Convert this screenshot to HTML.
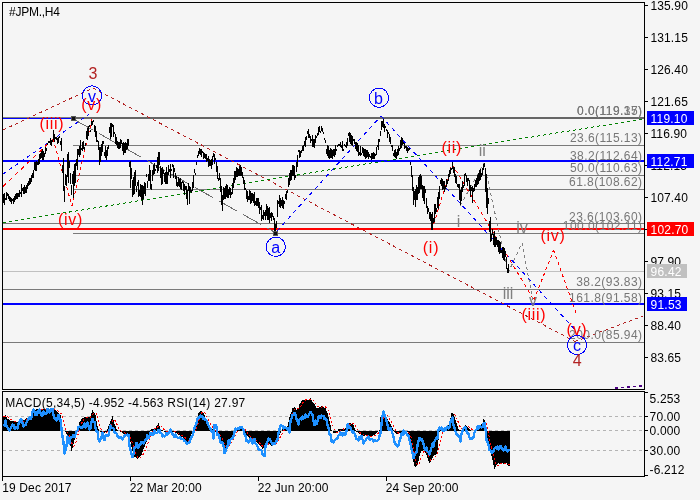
<!DOCTYPE html>
<html><head><meta charset="utf-8"><style>
html,body{margin:0;padding:0;background:#f5f5f5;}
svg{display:block;}
text{white-space:pre;}
</style></head><body>
<svg width="700" height="500" viewBox="0 0 700 500" shape-rendering="crispEdges" font-family='"Liberation Sans", Arial, sans-serif'><rect width="700" height="500" fill="#f5f5f5"/><rect x="73" y="145" width="571" height="1" fill="#7a7a7a"/><rect x="73" y="175" width="571" height="1" fill="#7a7a7a"/><rect x="73" y="189" width="571" height="1" fill="#7a7a7a"/><rect x="73" y="233" width="571" height="1" fill="#7a7a7a"/><rect x="3" y="223" width="641" height="1" fill="#7a7a7a"/><rect x="3" y="289" width="641" height="1" fill="#7a7a7a"/><rect x="3" y="342" width="641" height="1" fill="#7a7a7a"/><rect x="3" y="271" width="641" height="1" fill="#c0c0c0"/><rect x="3" y="117" width="641" height="2" fill="#0000ff"/><rect x="3" y="160" width="641" height="2" fill="#0000ff"/><rect x="3" y="228" width="641" height="2" fill="#ff0000"/><rect x="3" y="303" width="641" height="2" fill="#0000ff"/><rect x="3" y="117" width="70" height="1" fill="#808080"/><rect x="73" y="117" width="571" height="2" fill="#666666"/><line x1="3" y1="130" x2="93" y2="88" stroke="#b22222" stroke-width="1" stroke-dasharray="3.31,3.31"/><line x1="93" y1="88" x2="575" y2="341.5" stroke="#b22222" stroke-width="1" stroke-dasharray="3.39,3.39"/><line x1="575" y1="341.5" x2="643" y2="316" stroke="#b22222" stroke-width="1" stroke-dasharray="3.20,3.20"/><line x1="3" y1="222.8" x2="642.6" y2="119" stroke="#008000" stroke-width="1" stroke-dasharray="3.04,3.04"/><line x1="3" y1="174" x2="89" y2="114.4" stroke="#0000ff" stroke-width="1" stroke-dasharray="3.65,3.65"/><line x1="277" y1="231" x2="381" y2="116" stroke="#0000ff" stroke-width="1" stroke-dasharray="4.04,4.04"/><line x1="381" y1="116" x2="577" y2="332" stroke="#0000ff" stroke-width="1" stroke-dasharray="4.05,4.05"/><line x1="75" y1="120" x2="276" y2="233" stroke="#6e6e6e" stroke-width="1" stroke-dasharray="20.65,6.88"/><line x1="3" y1="186.5" x2="53" y2="139" stroke="#ff0000" stroke-width="1" stroke-dasharray="4.14,4.14"/><line x1="53" y1="139" x2="72" y2="206" stroke="#ff0000" stroke-width="1" stroke-dasharray="3.12,3.12"/><line x1="72" y1="206" x2="92" y2="119" stroke="#ff0000" stroke-width="1" stroke-dasharray="3.08,3.08"/><line x1="432" y1="230" x2="452" y2="164" stroke="#ff0000" stroke-width="1" stroke-dasharray="3.13,3.13"/><line x1="452" y1="164" x2="534" y2="300" stroke="#ff0000" stroke-width="1" stroke-dasharray="3.50,3.50"/><line x1="534" y1="300" x2="553.6" y2="250" stroke="#ff0000" stroke-width="1" stroke-dasharray="3.22,3.22"/><line x1="553.6" y1="250" x2="576" y2="313" stroke="#ff0000" stroke-width="1" stroke-dasharray="3.18,3.18"/><line x1="460" y1="206" x2="484" y2="163" stroke="#808080" stroke-width="1" stroke-dasharray="3.44,3.44"/><line x1="484" y1="163" x2="508" y2="273" stroke="#808080" stroke-width="1" stroke-dasharray="3.07,3.07"/><line x1="508" y1="273" x2="522" y2="243" stroke="#808080" stroke-width="1" stroke-dasharray="3.31,3.31"/><line x1="522" y1="243" x2="533" y2="301" stroke="#808080" stroke-width="1" stroke-dasharray="3.05,3.05"/><line x1="615" y1="388" x2="643" y2="386" stroke="#4b0082" stroke-width="1.5" stroke-dasharray="3.01,3.01"/><path d="M3.5 193.9V203.3M4.5 192.9V205.2M5.5 197.8V200.2M6.5 192.1V199.9M7.5 193.2V195.8M8.5 194.1V199.3M9.5 196.0V201.4M10.5 196.8V202.3M11.5 198.0V203.5M12.5 198.8V200.8M13.5 198.1V203.5M14.5 195.6V202.2M15.5 194.4V199.6M16.5 192.6V199.3M17.5 192.8V199.1M18.5 193.0V197.0M19.5 190.4V196.7M20.5 192.1V194.3M21.5 184.4V196.6M22.5 188.3V191.2M23.5 186.5V194.0M24.5 184.6V194.4M25.5 187.1V193.1M26.5 185.1V193.3M27.5 183.2V189.2M28.5 181.3V186.0M29.5 178.3V185.3M30.5 177.5V183.5M31.5 174.9V182.1M32.5 172.7V177.9M33.5 170.4V178.2M34.5 162.3V170.4M35.5 162.2V171.2M36.5 161.2V171.3M37.5 162.3V165.1M38.5 158.9V165.4M39.5 154.1V163.9M40.5 152.5V159.0M41.5 151.3V158.2M42.5 149.4V159.6M43.5 150.5V159.9M44.5 153.0V156.6M45.5 146.8V153.6M46.5 147.8V150.6M47.5 142.5V144.5M48.5 141.4V143.4M49.5 140.6V142.6M50.5 138.1V144.6M51.5 140.3V145.9M52.5 140.0V142.0M53.5 130.3V139.9M54.5 133.5V141.9M55.5 136.6V138.6M56.5 137.4V139.7M57.5 138.4V144.1M58.5 136.5V142.8M59.5 136.1V138.1M60.5 140.6V144.6M61.5 137.5V150.6M62.5 164.5V172.8M63.5 158.4V190.9M64.5 185.9V201.6M65.5 173.5V184.9M66.5 174.5V185.7M67.5 154.3V176.5M68.5 152.1V183.3M69.5 161.0V167.9M70.5 172.5V183.7M71.5 184.8V194.8M72.5 174.4V184.2M73.5 171.3V198.4M74.5 163.6V185.5M75.5 163.3V182.8M76.5 159.3V165.9M77.5 149.2V170.2M78.5 149.1V154.6M79.5 146.4V156.6M80.5 140.2V154.5M81.5 147.9V150.0M82.5 142.4V150.6M83.5 141.1V149.2M84.5 147.3V149.7M85.5 143.2V146.0M86.5 130.7V139.4M87.5 128.0V139.8M88.5 126.2V135.9M89.5 125.1V127.1M90.5 129.8V131.8M91.5 120.7V125.7M92.5 120.9V125.2M93.5 119.7V122.4M94.5 124.5V131.7M95.5 126.3V136.5M96.5 130.8V141.9M97.5 139.6V142.1M98.5 140.6V150.0M99.5 147.4V165.0M100.5 147.2V162.3M101.5 144.0V155.6M102.5 140.6V152.3M103.5 140.8V144.4M104.5 152.4V155.5M105.5 145.9V157.6M106.5 150.0V159.5M107.5 146.6V155.9M108.5 144.6V148.9M109.5 127.1V133.1M110.5 123.3V139.1M111.5 123.4V137.1M112.5 124.0V126.9M113.5 125.3V136.9M114.5 132.0V134.3M115.5 134.3V143.6M116.5 137.3V145.2M117.5 140.8V148.4M118.5 141.8V148.9M119.5 142.2V148.8M120.5 139.3V147.5M121.5 140.3V144.3M122.5 142.7V151.2M123.5 141.8V154.5M124.5 143.1V152.9M125.5 142.0V152.7M126.5 143.1V149.5M127.5 138.6V149.0M128.5 138.5V146.4M129.5 161.5V167.1M130.5 161.3V188.3M131.5 168.0V179.0M132.5 180.0V196.7M133.5 176.5V195.4M134.5 171.9V194.3M135.5 170.3V186.1M136.5 185.7V191.9M137.5 182.2V186.4M138.5 180.1V197.4M139.5 189.5V195.6M140.5 184.3V196.8M141.5 185.3V200.1M142.5 184.8V205.3M143.5 186.2V198.8M144.5 181.7V193.6M145.5 182.5V195.6M146.5 173.8V177.4M147.5 180.9V187.7M148.5 173.5V180.8M149.5 165.1V181.4M150.5 170.1V189.2M151.5 184.3V190.2M152.5 169.5V180.7M153.5 164.8V175.1M154.5 163.3V173.6M155.5 168.5V171.3M156.5 164.8V167.8M157.5 156.6V173.0M158.5 152.2V171.1M159.5 151.7V164.9M160.5 166.4V178.3M161.5 168.4V185.1M162.5 167.0V184.2M163.5 170.3V174.0M164.5 173.0V182.1M165.5 171.6V184.3M166.5 167.0V184.4M167.5 172.0V183.8M168.5 164.9V174.6M169.5 168.5V171.7M170.5 163.5V177.9M171.5 168.5V170.8M172.5 163.8V167.2M173.5 164.7V177.9M174.5 168.1V171.6M175.5 173.3V179.3M176.5 175.5V186.2M177.5 181.7V186.5M178.5 176.9V186.4M179.5 178.8V186.8M180.5 177.8V189.0M181.5 181.9V189.6M182.5 180.7V182.7M183.5 181.6V191.0M184.5 184.1V194.5M185.5 185.8V189.5M186.5 186.2V199.2M187.5 190.2V204.9M188.5 183.2V191.4M189.5 186.2V204.1M190.5 187.2V191.5M191.5 189.8V192.5M192.5 182.1V190.8M193.5 174.5V188.0M194.5 168.9V172.7M195.5 172.7V175.4M196.5 162.0V165.1M197.5 155.3V157.7M198.5 150.8V155.9M199.5 148.1V153.7M200.5 148.5V154.7M201.5 148.9V157.1M202.5 150.9V153.2M203.5 152.2V159.0M204.5 153.1V157.8M205.5 153.9V159.0M206.5 154.3V161.7M207.5 157.8V160.5M208.5 156.1V166.7M209.5 159.2V166.4M210.5 160.1V166.2M211.5 159.3V169.3M212.5 155.6V165.3M213.5 153.1V156.8M214.5 154.0V163.5M215.5 157.5V160.4M216.5 162.2V171.6M217.5 165.9V179.2M218.5 178.2V180.8M219.5 172.7V180.0M220.5 177.6V191.8M221.5 186.4V205.0M222.5 194.9V211.3M223.5 187.4V199.7M224.5 188.3V198.9M225.5 186.4V198.6M226.5 184.4V197.2M227.5 185.3V198.2M228.5 189.3V198.1M229.5 187.3V195.4M230.5 188.2V197.6M231.5 192.0V195.1M232.5 183.4V193.6M233.5 177.5V188.2M234.5 170.8V183.4M235.5 170.8V180.1M236.5 167.4V176.9M237.5 168.1V177.0M238.5 169.1V176.2M239.5 166.1V175.6M240.5 164.9V175.7M241.5 167.2V175.6M242.5 171.5V178.1M243.5 177.4V183.7M244.5 180.1V190.0M245.5 187.5V189.5M246.5 190.0V199.3M247.5 190.7V201.8M248.5 195.9V199.8M249.5 190.4V199.9M250.5 191.0V203.6M251.5 192.5V203.4M252.5 193.0V200.8M253.5 193.5V203.0M254.5 192.2V205.5M255.5 201.0V204.5M256.5 198.1V205.9M257.5 197.5V205.5M258.5 198.3V208.3M259.5 201.9V213.5M260.5 207.0V210.0M261.5 205.4V220.6M262.5 214.8V219.2M263.5 209.7V220.4M264.5 212.1V216.0M265.5 210.1V220.3M266.5 204.3V215.8M267.5 205.7V220.0M268.5 207.9V220.4M269.5 206.8V222.5M270.5 213.3V218.1M271.5 211.6V221.4M272.5 213.0V217.0M273.5 216.4V220.0M274.5 218.4V230.7M275.5 223.7V232.2M276.5 220.5V228.3M277.5 199.5V217.3M278.5 201.0V204.3M279.5 194.8V206.5M280.5 198.2V208.4M281.5 200.1V205.8M282.5 197.4V207.7M283.5 200.4V209.1M284.5 201.3V204.0M285.5 194.3V198.8M286.5 191.0V199.6M287.5 189.7V193.4M288.5 177.5V186.8M289.5 173.0V185.3M290.5 169.6V181.4M291.5 169.9V180.3M292.5 165.3V176.2M293.5 165.3V175.6M294.5 165.8V179.7M295.5 175.0V177.9M296.5 161.5V171.9M297.5 155.0V166.6M298.5 150.1V152.1M299.5 149.9V157.7M300.5 150.8V156.6M301.5 150.4V153.0M302.5 146.2V150.8M303.5 145.0V150.7M304.5 140.5V145.6M305.5 136.9V147.3M306.5 136.3V139.7M307.5 130.9V133.8M308.5 129.1V137.6M309.5 134.3V137.9M310.5 136.4V143.2M311.5 138.8V141.1M312.5 134.9V147.3M313.5 139.1V146.8M314.5 138.8V147.6M315.5 135.4V143.0M316.5 135.6V137.7M317.5 132.9V135.7M318.5 127.0V135.4M319.5 126.2V131.5M320.5 130.5V132.5M321.5 126.0V130.8M322.5 128.3V132.4M323.5 131.5V133.5M324.5 138.2V140.4M325.5 139.6V143.0M326.5 149.2V153.9M327.5 144.9V156.1M328.5 145.7V158.2M329.5 149.8V158.5M330.5 148.1V158.4M331.5 149.0V157.7M332.5 149.6V159.1M333.5 148.8V156.3M334.5 148.5V156.5M335.5 145.1V155.2M336.5 148.5V150.5M337.5 145.3V147.3M338.5 143.9V145.9M339.5 143.5V146.0M340.5 141.7V146.9M341.5 145.2V147.9M342.5 141.4V151.2M343.5 149.3V151.3M344.5 144.2V146.2M345.5 144.5V146.5M346.5 141.8V147.7M347.5 138.4V145.6M348.5 133.2V135.6M349.5 132.0V141.8M350.5 132.7V143.5M351.5 135.0V144.5M352.5 135.5V145.8M353.5 138.5V140.7M354.5 139.1V144.3M355.5 142.4V148.8M356.5 141.9V151.2M357.5 142.7V151.6M358.5 144.7V155.7M359.5 152.4V155.1M360.5 145.9V155.7M361.5 153.4V155.4M362.5 147.2V153.2M363.5 147.6V155.9M364.5 148.7V157.4M365.5 148.8V158.6M366.5 149.7V157.5M367.5 149.9V156.6M368.5 151.6V158.5M369.5 154.4V156.6M370.5 155.9V158.4M371.5 153.1V159.8M372.5 152.5V158.5M373.5 152.0V159.1M374.5 153.3V158.8M375.5 154.0V156.2M376.5 147.2V155.4M377.5 145.0V147.0M378.5 138.6V149.8M379.5 139.2V142.4M380.5 131.1V135.8M381.5 120.8V130.2M382.5 121.2V127.3M383.5 119.0V127.5M384.5 123.9V131.5M385.5 126.1V128.1M386.5 128.8V130.8M387.5 129.8V137.8M388.5 131.6V134.1M389.5 134.1V142.0M390.5 136.8V143.6M391.5 145.4V147.4M392.5 144.6V151.3M393.5 153.1V156.0M394.5 150.0V157.4M395.5 149.3V157.9M396.5 152.1V158.8M397.5 148.7V155.7M398.5 145.9V155.2M399.5 147.6V151.1M400.5 139.9V149.3M401.5 137.0V148.4M402.5 137.9V145.0M403.5 141.9V143.9M404.5 142.7V148.5M405.5 145.5V147.5M406.5 145.8V150.8M407.5 146.5V152.5M408.5 147.7V151.3M409.5 148.4V150.4M410.5 161.8V165.0M411.5 165.6V177.1M412.5 175.0V190.8M413.5 186.7V204.9M414.5 191.0V199.6M415.5 188.9V207.2M416.5 184.8V200.4M417.5 186.8V199.6M418.5 176.8V193.5M419.5 175.4V192.8M420.5 174.3V188.7M421.5 175.7V189.4M422.5 185.0V198.1M423.5 185.6V200.5M424.5 185.7V203.9M425.5 189.4V192.8M426.5 198.2V208.4M427.5 206.4V213.5M428.5 208.3V211.9M429.5 211.8V218.9M430.5 212.1V220.8M431.5 214.1V229.6M432.5 211.8V230.4M433.5 217.6V223.4M434.5 204.1V221.7M435.5 203.6V213.8M436.5 207.7V211.7M437.5 197.0V207.9M438.5 192.3V209.4M439.5 185.8V198.7M440.5 179.7V183.6M441.5 177.7V185.5M442.5 178.7V189.6M443.5 181.3V189.2M444.5 181.0V191.9M445.5 185.8V188.7M446.5 178.6V186.9M447.5 180.3V183.9M448.5 174.2V181.1M449.5 169.9V177.2M450.5 168.3V174.3M451.5 167.5V169.7M452.5 162.3V169.1M453.5 166.6V172.7M454.5 167.2V177.3M455.5 173.9V183.1M456.5 175.7V183.5M457.5 183.5V187.3M458.5 183.9V187.7M459.5 184.3V200.1M460.5 189.8V205.1M461.5 187.4V201.4M462.5 180.7V192.2M463.5 184.7V188.3M464.5 174.3V185.8M465.5 172.7V176.0M466.5 174.9V182.4M467.5 178.4V185.7M468.5 177.8V181.1M469.5 180.0V191.3M470.5 184.8V196.9M471.5 186.9V191.3M472.5 186.2V202.6M473.5 188.4V192.1M474.5 183.9V191.3M475.5 180.3V187.2M476.5 177.8V187.3M477.5 175.4V185.1M478.5 173.3V184.4M479.5 170.4V181.3M480.5 169.1V179.6M481.5 173.2V176.6M482.5 167.7V175.3M483.5 164.3V170.3M484.5 163.4V166.9M485.5 167.6V191.5M486.5 173.5V207.8M487.5 188.4V214.4M488.5 198.4V204.4M489.5 221.1V231.5M490.5 217.1V242.3M491.5 233.6V240.6M492.5 228.9V234.9M493.5 234.1V245.0M494.5 231.3V247.1M495.5 236.6V246.9M496.5 236.7V245.4M497.5 239.6V247.3M498.5 240.0V252.1M499.5 240.6V253.9M500.5 242.4V253.3M501.5 249.6V253.1M502.5 246.9V257.8M503.5 246.6V259.7M504.5 248.2V261.4M505.5 251.1V257.0M506.5 257.3V268.9M507.5 268.0V272.6M508.5 263.8V273.2" stroke="#000" stroke-width="1" fill="none"/><rect x="71" y="116" width="5" height="5" fill="#555"/><rect x="72" y="117" width="3" height="3" fill="#111"/><rect x="273" y="231" width="5" height="5" fill="#555"/><rect x="274" y="232" width="3" height="3" fill="#111"/><text x="93" y="78.5" fill="#b22222" font-size="16" text-anchor="middle">3</text><circle cx="92" cy="95.5" r="9.6" fill="none" stroke="#0000ff" stroke-width="1"/><text x="92" y="102" fill="#0000ff" font-size="16" text-anchor="middle">v</text><text x="91.6" y="110" fill="#ff0000" font-size="16" text-anchor="middle" letter-spacing="0.7">(v)</text><text x="52" y="129" fill="#ff0000" font-size="16" text-anchor="middle" letter-spacing="0.7">(iii)</text><text x="70.5" y="225" fill="#ff0000" font-size="16" text-anchor="middle" letter-spacing="0.7">(iv)</text><circle cx="275.8" cy="246.8" r="9.6" fill="none" stroke="#0000ff" stroke-width="1"/><text x="275.8" y="253" fill="#0000ff" font-size="16" text-anchor="middle">a</text><circle cx="379" cy="97.7" r="9.6" fill="none" stroke="#0000ff" stroke-width="1"/><text x="378.5" y="103.5" fill="#0000ff" font-size="16" text-anchor="middle">b</text><text x="431" y="252.5" fill="#ff0000" font-size="16" text-anchor="middle" letter-spacing="0.7">(i)</text><text x="451.7" y="152.5" fill="#ff0000" font-size="16" text-anchor="middle" letter-spacing="0.7">(ii)</text><text x="458.5" y="227" fill="#808080" font-size="16" text-anchor="middle">i</text><text x="482.3" y="156" fill="#808080" font-size="16" text-anchor="middle">ii</text><text x="508" y="298.5" fill="#808080" font-size="16" text-anchor="middle">iii</text><text x="522" y="233" fill="#808080" font-size="16" text-anchor="middle">iv</text><text x="533" y="306" fill="#808080" font-size="16" text-anchor="middle">v</text><text x="553" y="241" fill="#ff0000" font-size="16" text-anchor="middle" letter-spacing="0.7">(iv)</text><text x="534" y="320" fill="#ff0000" font-size="16" text-anchor="middle" letter-spacing="0.7">(iii)</text><text x="642.5" y="115" fill="#777777" font-size="12" text-anchor="end" letter-spacing="0.45">0.0(119.17)</text><text x="642.5" y="142" fill="#777777" font-size="12" text-anchor="end" letter-spacing="0.45">23.6(115.13)</text><text x="642.5" y="159.5" fill="#777777" font-size="12" text-anchor="end" letter-spacing="0.45">38.2(112.64)</text><text x="642.5" y="172" fill="#777777" font-size="12" text-anchor="end" letter-spacing="0.45">50.0(110.63)</text><text x="642.5" y="186" fill="#777777" font-size="12" text-anchor="end" letter-spacing="0.45">61.8(108.62)</text><text x="642.5" y="220.5" fill="#777777" font-size="12" text-anchor="end" letter-spacing="0.45">23.6(103.60)</text><text x="642.5" y="230" fill="#777777" font-size="12" text-anchor="end" letter-spacing="0.45">100.0(102.11)</text><text x="642.5" y="286" fill="#777777" font-size="12" text-anchor="end" letter-spacing="0.45">38.2(93.83)</text><text x="642.5" y="301.5" fill="#777777" font-size="12" text-anchor="end" letter-spacing="0.45">161.8(91.58)</text><text x="642.5" y="339" fill="#777777" font-size="12" text-anchor="end" letter-spacing="0.45">200.0(85.94)</text><text x="642.5" y="115" fill="#777777" font-size="12" text-anchor="end" letter-spacing="0.45">0.0(119.35)</text><text x="577" y="335" fill="#ff0000" font-size="16" text-anchor="middle" letter-spacing="0.7">(v)</text><circle cx="577" cy="345" r="9.6" fill="none" stroke="#0000ff" stroke-width="1"/><text x="577" y="351" fill="#0000ff" font-size="16" text-anchor="middle">c</text><text x="577.2" y="366" fill="#b22222" font-size="16" text-anchor="middle">4</text><line x1="3" y1="416.5" x2="644" y2="416.5" stroke="#b4b4b4" stroke-width="1" stroke-dasharray="3.00,3.00"/><line x1="3" y1="430.5" x2="644" y2="430.5" stroke="#b4b4b4" stroke-width="1" stroke-dasharray="3.00,3.00"/><line x1="3" y1="450.5" x2="644" y2="450.5" stroke="#b4b4b4" stroke-width="1" stroke-dasharray="3.00,3.00"/><path d="M3.5 431V416.6M4.5 431V415.8M5.5 431V415.0M6.5 431V416.9M7.5 431V418.8M8.5 431V419.4M9.5 431V420.0M10.5 431V420.6M11.5 431V420.8M12.5 431V421.1M13.5 431V421.3M14.5 431V421.5M15.5 431V421.7M16.5 431V421.9M17.5 431V422.2M18.5 431V422.4M19.5 431V422.0M20.5 431V421.7M21.5 431V421.4M22.5 431V421.0M23.5 431V420.3M24.5 431V419.5M25.5 431V418.8M26.5 431V418.4M27.5 431V417.9M28.5 431V417.4M29.5 431V417.0M30.5 431V415.8M31.5 431V414.6M32.5 431V413.4M33.5 431V412.3M34.5 431V411.2M35.5 431V410.1M36.5 431V409.0M37.5 431V409.0M38.5 431V409.0M39.5 431V409.0M40.5 431V409.0M41.5 431V409.0M42.5 431V409.0M43.5 431V409.0M44.5 431V409.0M45.5 431V409.0M46.5 431V409.0M47.5 431V409.0M48.5 431V409.0M49.5 431V409.0M50.5 431V409.0M51.5 431V409.2M52.5 431V409.4M53.5 431V409.6M54.5 431V409.8M55.5 431V410.4M56.5 431V411.0M57.5 431V411.6M58.5 431V412.7M59.5 431V413.9M60.5 431V415.0M61.5 431V418.8M62.5 431V430.0M63.5 431V430.7M64.5 431V431.3M65.5 431V432.0M66.5 431V433.6M67.5 431V435.2M68.5 431V436.8M69.5 431V441.5M70.5 431V446.3M71.5 431V451.0M72.5 431V447.5M73.5 431V444.0M74.5 431V439.5M75.5 431V435.0M76.5 431V432.8M77.5 431V430.5M78.5 431V426.4M79.5 431V422.4M80.5 431V420.6M81.5 431V418.8M82.5 431V418.2M83.5 431V417.6M84.5 431V417.0M85.5 431V417.0M86.5 431V417.0M87.5 431V417.0M88.5 431V417.0M89.5 431V417.0M90.5 431V417.0M91.5 431V413.4M92.5 431V409.8M93.5 431V411.5M94.5 431V413.3M95.5 431V415.0M96.5 431V420.5M97.5 431V426.0M98.5 431V428.5M99.5 431V431.0M100.5 431V431.5M101.5 431V432.0M102.5 431V432.5M103.5 431V433.0M104.5 431V432.7M105.5 431V432.3M106.5 431V432.0M107.5 431V429.0M108.5 431V426.0M109.5 431V423.5M110.5 431V421.0M111.5 431V418.5M112.5 431V416.0M113.5 431V420.0M114.5 431V424.0M115.5 431V426.4M116.5 431V428.7M117.5 431V430.0M118.5 431V430.6M119.5 431V431.2M120.5 431V431.8M121.5 431V432.4M122.5 431V433.0M123.5 431V433.5M124.5 431V434.0M125.5 431V434.5M126.5 431V435.0M127.5 431V435.9M128.5 431V436.8M129.5 431V439.4M130.5 431V442.0M131.5 431V446.5M132.5 431V451.0M133.5 431V453.8M134.5 431V456.5M135.5 431V457.3M136.5 431V458.2M137.5 431V459.0M138.5 431V458.0M139.5 431V457.0M140.5 431V455.9M141.5 431V454.7M142.5 431V451.9M143.5 431V449.0M144.5 431V446.7M145.5 431V444.3M146.5 431V442.0M147.5 431V438.5M148.5 431V435.0M149.5 431V432.5M150.5 431V430.0M151.5 431V429.4M152.5 431V428.7M153.5 431V428.5M154.5 431V428.2M155.5 431V428.0M156.5 431V426.3M157.5 431V424.7M158.5 431V423.0M159.5 431V425.9M160.5 431V428.7M161.5 431V429.5M162.5 431V430.2M163.5 431V431.0M164.5 431V431.5M165.5 431V432.0M166.5 431V432.5M167.5 431V433.0M168.5 431V432.3M169.5 431V431.7M170.5 431V431.0M171.5 431V431.2M172.5 431V431.5M173.5 431V431.8M174.5 431V432.0M175.5 431V432.7M176.5 431V433.3M177.5 431V434.0M178.5 431V434.7M179.5 431V435.4M180.5 431V436.1M181.5 431V436.8M182.5 431V437.4M183.5 431V438.0M184.5 431V438.6M185.5 431V439.7M186.5 431V440.9M187.5 431V442.0M188.5 431V440.3M189.5 431V438.5M190.5 431V436.8M191.5 431V433.9M192.5 431V431.0M193.5 431V430.5M194.5 431V430.0M195.5 431V426.2M196.5 431V422.4M197.5 431V417.9M198.5 431V413.4M199.5 431V412.0M200.5 431V410.7M201.5 431V411.1M202.5 431V411.6M203.5 431V413.3M204.5 431V415.0M205.5 431V417.8M206.5 431V420.6M207.5 431V422.4M208.5 431V424.2M209.5 431V426.0M210.5 431V427.4M211.5 431V428.7M212.5 431V429.4M213.5 431V430.0M214.5 431V431.0M215.5 431V432.0M216.5 431V433.0M217.5 431V434.0M218.5 431V435.0M219.5 431V436.8M220.5 431V438.6M221.5 431V441.3M222.5 431V444.0M223.5 431V446.5M224.5 431V449.0M225.5 431V448.2M226.5 431V447.5M227.5 431V445.8M228.5 431V444.0M229.5 431V442.0M230.5 431V440.0M231.5 431V439.3M232.5 431V438.6M233.5 431V434.8M234.5 431V431.0M235.5 431V430.5M236.5 431V430.0M237.5 431V428.5M238.5 431V427.0M239.5 431V426.5M240.5 431V426.0M241.5 431V426.9M242.5 431V427.8M243.5 431V429.4M244.5 431V431.0M245.5 431V433.0M246.5 431V435.0M247.5 431V435.9M248.5 431V436.8M249.5 431V437.7M250.5 431V438.1M251.5 431V438.6M252.5 431V439.3M253.5 431V440.0M254.5 431V440.7M255.5 431V441.3M256.5 431V442.0M257.5 431V443.0M258.5 431V444.0M259.5 431V444.9M260.5 431V445.8M261.5 431V447.4M262.5 431V449.0M263.5 431V448.2M264.5 431V447.5M265.5 431V444.0M266.5 431V443.0M267.5 431V442.0M268.5 431V443.0M269.5 431V444.0M270.5 431V444.9M271.5 431V445.8M272.5 431V444.9M273.5 431V444.0M274.5 431V443.0M275.5 431V442.0M276.5 431V440.3M277.5 431V438.6M278.5 431V436.8M279.5 431V435.0M280.5 431V433.0M281.5 431V431.0M282.5 431V429.4M283.5 431V427.8M284.5 431V427.4M285.5 431V427.0M286.5 431V426.5M287.5 431V426.0M288.5 431V421.5M289.5 431V417.0M290.5 431V414.3M291.5 431V411.6M292.5 431V408.0M293.5 431V407.5M294.5 431V407.0M295.5 431V408.4M296.5 431V409.8M297.5 431V409.4M298.5 431V409.0M299.5 431V404.4M300.5 431V402.6M301.5 431V400.8M302.5 431V400.4M303.5 431V400.0M304.5 431V399.5M305.5 431V399.0M306.5 431V399.5M307.5 431V400.0M308.5 431V400.0M309.5 431V400.0M310.5 431V398.0M311.5 431V399.9M312.5 431V401.7M313.5 431V403.0M314.5 431V404.4M315.5 431V406.2M316.5 431V408.0M317.5 431V408.0M318.5 431V408.0M319.5 431V407.0M320.5 431V406.5M321.5 431V406.0M322.5 431V406.5M323.5 431V407.0M324.5 431V407.5M325.5 431V408.0M326.5 431V410.7M327.5 431V413.4M328.5 431V417.0M329.5 431V420.6M330.5 431V425.3M331.5 431V430.0M332.5 431V431.2M333.5 431V432.5M334.5 431V432.7M335.5 431V432.8M336.5 431V433.0M337.5 431V432.0M338.5 431V429.0M339.5 431V429.0M340.5 431V429.0M341.5 431V429.0M342.5 431V429.0M343.5 431V429.0M344.5 431V428.7M345.5 431V428.3M346.5 431V428.0M347.5 431V423.0M348.5 431V423.0M349.5 431V423.0M350.5 431V423.0M351.5 431V423.7M352.5 431V424.3M353.5 431V425.0M354.5 431V427.5M355.5 431V430.0M356.5 431V431.5M357.5 431V432.2M358.5 431V433.0M359.5 431V433.7M360.5 431V434.3M361.5 431V435.0M362.5 431V435.5M363.5 431V436.0M364.5 431V435.7M365.5 431V435.3M366.5 431V435.0M367.5 431V435.6M368.5 431V436.2M369.5 431V436.8M370.5 431V436.5M371.5 431V436.3M372.5 431V436.0M373.5 431V435.3M374.5 431V434.7M375.5 431V434.0M376.5 431V433.0M377.5 431V432.0M378.5 431V431.0M379.5 431V430.0M380.5 431V417.0M381.5 431V414.8M382.5 431V412.5M383.5 431V412.9M384.5 431V413.4M385.5 431V415.2M386.5 431V417.0M387.5 431V418.8M388.5 431V420.6M389.5 431V422.3M390.5 431V424.0M391.5 431V425.9M392.5 431V427.8M393.5 431V430.0M394.5 431V431.5M395.5 431V433.0M396.5 431V433.5M397.5 431V434.0M398.5 431V433.5M399.5 431V433.0M400.5 431V433.0M401.5 431V433.0M402.5 431V433.0M403.5 431V433.0M404.5 431V432.0M405.5 431V431.0M406.5 431V431.5M407.5 431V432.0M408.5 431V436.0M409.5 431V438.0M410.5 431V440.0M411.5 431V448.0M412.5 431V456.0M413.5 431V462.0M414.5 431V466.0M415.5 431V466.7M416.5 431V466.0M417.5 431V464.0M418.5 431V461.0M419.5 431V456.3M420.5 431V453.0M421.5 431V451.0M422.5 431V450.5M423.5 431V450.0M424.5 431V451.3M425.5 431V453.0M426.5 431V455.0M427.5 431V458.3M428.5 431V461.0M429.5 431V463.0M430.5 431V461.7M431.5 431V460.0M432.5 431V458.0M433.5 431V456.0M434.5 431V455.0M435.5 431V455.0M436.5 431V453.7M437.5 431V449.5M438.5 431V440.0M439.5 431V432.0M440.5 431V429.5M441.5 431V429.2M442.5 431V429.0M443.5 431V428.8M444.5 431V428.5M445.5 431V427.8M446.5 431V427.0M447.5 431V426.0M448.5 431V425.0M449.5 431V421.7M450.5 431V417.7M451.5 431V413.0M452.5 431V412.5M453.5 431V414.2M454.5 431V416.7M455.5 431V420.0M456.5 431V423.3M457.5 431V426.2M458.5 431V428.5M459.5 431V429.5M460.5 431V430.0M461.5 431V430.0M462.5 431V428.7M463.5 431V427.3M464.5 431V426.0M465.5 431V425.3M466.5 431V425.7M467.5 431V427.0M468.5 431V428.3M469.5 431V429.3M470.5 431V430.0M471.5 431V430.5M472.5 431V431.0M473.5 431V431.0M474.5 431V431.0M475.5 431V430.5M476.5 431V430.0M477.5 431V429.0M478.5 431V428.0M479.5 431V426.5M480.5 431V425.0M481.5 431V424.0M482.5 431V423.0M483.5 431V419.0M484.5 431V419.7M485.5 431V425.0M486.5 431V436.9M487.5 431V440.0M488.5 431V444.0M489.5 431V448.0M490.5 431V452.0M491.5 431V456.0M492.5 431V460.0M493.5 431V464.5M494.5 431V469.0M495.5 431V467.0M496.5 431V465.0M497.5 431V464.0M498.5 431V463.0M499.5 431V463.5M500.5 431V464.0M501.5 431V463.5M502.5 431V463.0M503.5 431V463.5M504.5 431V464.0M505.5 431V463.5M506.5 431V463.0M507.5 431V464.5M508.5 431V466.0M509.5 431V466.0" stroke="#000" stroke-width="1" fill="none"/><polyline points="3.5,416.6 4.5,416.4 5.5,416.1 6.5,416.2 7.5,416.6 8.5,417.2 9.5,418.0 10.5,419.1 11.5,419.9 12.5,420.4 13.5,420.8 14.5,421.1 15.5,421.3 16.5,421.5 17.5,421.7 18.5,422.0 19.5,422.1 20.5,422.1 21.5,421.9 22.5,421.7 23.5,421.3 24.5,420.8 25.5,420.2 26.5,419.6 27.5,419.0 28.5,418.4 29.5,417.9 30.5,417.3 31.5,416.6 32.5,415.7 33.5,414.6 34.5,413.5 35.5,412.3 36.5,411.2 37.5,410.3 38.5,409.7 39.5,409.2 40.5,409.0 41.5,409.0 42.5,409.0 43.5,409.0 44.5,409.0 45.5,409.0 46.5,409.0 47.5,409.0 48.5,409.0 49.5,409.0 50.5,409.0 51.5,409.0 52.5,409.1 53.5,409.2 54.5,409.4 55.5,409.7 56.5,410.0 57.5,410.5 58.5,411.1 59.5,411.9 60.5,412.8 61.5,414.4 62.5,418.1 63.5,421.7 64.5,425.2 65.5,428.6 66.5,431.5 67.5,432.6 68.5,433.8 69.5,435.8 70.5,438.7 71.5,442.2 72.5,444.6 73.5,446.1 74.5,445.7 75.5,443.4 76.5,439.8 77.5,436.4 78.5,432.8 79.5,429.4 80.5,426.5 81.5,423.8 82.5,421.3 83.5,419.5 84.5,418.4 85.5,417.7 86.5,417.4 87.5,417.1 88.5,417.0 89.5,417.0 90.5,417.0 91.5,416.3 92.5,414.8 93.5,413.7 94.5,413.0 95.5,412.6 96.5,414.0 97.5,417.3 98.5,420.7 99.5,424.2 100.5,427.5 101.5,429.8 102.5,431.1 103.5,432.0 104.5,432.3 105.5,432.5 106.5,432.5 107.5,431.8 108.5,430.4 109.5,428.6 110.5,426.3 111.5,423.6 112.5,421.0 113.5,419.8 114.5,419.9 115.5,421.0 116.5,423.0 117.5,425.8 118.5,427.9 119.5,429.4 120.5,430.5 121.5,431.2 122.5,431.8 123.5,432.4 124.5,432.9 125.5,433.5 126.5,434.0 127.5,434.6 128.5,435.2 129.5,436.3 130.5,437.8 131.5,440.1 132.5,443.1 133.5,446.5 134.5,450.0 135.5,453.0 136.5,455.4 137.5,456.9 138.5,457.8 139.5,457.9 140.5,457.6 141.5,456.9 142.5,455.5 143.5,453.7 144.5,451.6 145.5,449.3 146.5,446.8 147.5,444.1 148.5,441.3 149.5,438.5 150.5,435.6 151.5,433.1 152.5,431.1 153.5,429.8 154.5,429.0 155.5,428.6 156.5,427.9 157.5,427.1 158.5,426.0 159.5,425.6 160.5,425.7 161.5,426.3 162.5,427.5 163.5,429.1 164.5,430.2 165.5,430.8 166.5,431.4 167.5,432.0 168.5,432.3 169.5,432.3 170.5,432.1 171.5,431.8 172.5,431.6 173.5,431.4 174.5,431.5 175.5,431.8 176.5,432.3 177.5,432.8 178.5,433.3 179.5,434.0 180.5,434.7 181.5,435.4 182.5,436.1 183.5,436.7 184.5,437.4 185.5,438.1 186.5,438.9 187.5,439.8 188.5,440.3 189.5,440.3 190.5,439.7 191.5,438.3 192.5,436.1 193.5,434.1 194.5,432.4 195.5,430.3 196.5,428.0 197.5,425.4 198.5,422.0 199.5,418.4 200.5,415.3 201.5,413.0 202.5,411.8 203.5,411.8 204.5,412.4 205.5,413.8 206.5,415.7 207.5,417.8 208.5,420.0 209.5,422.2 210.5,424.1 211.5,425.7 212.5,427.1 213.5,428.3 214.5,429.3 215.5,430.2 216.5,431.1 217.5,432.0 218.5,433.0 219.5,434.2 220.5,435.5 221.5,437.1 222.5,439.1 223.5,441.4 224.5,443.9 225.5,445.8 226.5,447.1 227.5,447.4 228.5,446.9 229.5,445.5 230.5,443.9 231.5,442.2 232.5,440.8 233.5,438.9 234.5,436.7 235.5,434.8 236.5,433.0 237.5,431.0 238.5,429.4 239.5,428.5 240.5,427.6 241.5,427.0 242.5,426.8 243.5,427.3 244.5,428.2 245.5,429.6 246.5,431.2 247.5,432.9 248.5,434.3 249.5,435.7 250.5,436.7 251.5,437.4 252.5,438.1 253.5,438.8 254.5,439.3 255.5,440.0 256.5,440.7 257.5,441.4 258.5,442.2 259.5,443.0 260.5,443.9 261.5,445.0 262.5,446.2 263.5,447.1 264.5,447.6 265.5,447.2 266.5,446.4 267.5,445.0 268.5,443.9 269.5,443.2 270.5,443.4 271.5,443.9 272.5,444.5 273.5,444.7 274.5,444.5 275.5,443.9 276.5,442.8 277.5,441.6 278.5,440.1 279.5,438.5 280.5,436.7 281.5,434.9 282.5,433.0 283.5,431.2 284.5,429.7 285.5,428.5 286.5,427.6 287.5,426.9 288.5,425.7 289.5,423.6 290.5,421.1 291.5,418.1 292.5,414.5 293.5,411.7 294.5,409.7 295.5,408.5 296.5,408.1 297.5,408.4 298.5,408.7 299.5,408.2 300.5,407.0 301.5,405.2 302.5,403.4 303.5,401.6 304.5,400.7 305.5,399.9 306.5,399.7 307.5,399.6 308.5,399.6 309.5,399.7 310.5,399.5 311.5,399.6 312.5,399.9 313.5,400.5 314.5,401.4 315.5,403.0 316.5,404.7 317.5,405.9 318.5,406.9 319.5,407.4 320.5,407.5 321.5,407.1 322.5,406.8 323.5,406.6 324.5,406.7 325.5,407.0 326.5,407.9 327.5,409.3 328.5,411.3 329.5,413.9 330.5,417.4 331.5,421.3 332.5,424.8 333.5,427.9 334.5,430.3 335.5,431.9 336.5,432.5 337.5,432.6 338.5,431.9 339.5,431.2 340.5,430.4 341.5,429.6 342.5,429.0 343.5,429.0 344.5,428.9 345.5,428.8 346.5,428.6 347.5,427.4 348.5,426.2 349.5,425.1 350.5,424.0 351.5,423.1 352.5,423.4 353.5,423.8 354.5,424.7 355.5,426.1 356.5,427.7 357.5,429.2 358.5,430.9 359.5,432.1 360.5,433.0 361.5,433.7 362.5,434.3 363.5,434.9 364.5,435.3 365.5,435.5 366.5,435.5 367.5,435.5 368.5,435.6 369.5,435.8 370.5,436.0 371.5,436.3 372.5,436.4 373.5,436.2 374.5,435.8 375.5,435.3 376.5,434.6 377.5,433.8 378.5,432.9 379.5,432.0 380.5,428.6 381.5,424.9 382.5,421.1 383.5,417.4 384.5,414.1 385.5,413.8 386.5,414.2 387.5,415.5 388.5,417.0 389.5,418.8 390.5,420.5 391.5,422.3 392.5,424.1 393.5,426.0 394.5,427.8 395.5,429.6 396.5,431.2 397.5,432.4 398.5,433.1 399.5,433.4 400.5,433.4 401.5,433.3 402.5,433.1 403.5,433.0 404.5,432.8 405.5,432.4 406.5,432.1 407.5,431.9 408.5,432.5 409.5,433.7 410.5,435.5 411.5,438.8 412.5,443.6 413.5,448.8 414.5,454.4 415.5,459.7 416.5,463.3 417.5,464.9 418.5,464.7 419.5,462.8 420.5,460.1 421.5,457.1 422.5,454.4 423.5,452.2 424.5,451.2 425.5,451.2 426.5,452.0 427.5,453.5 428.5,455.7 429.5,458.1 430.5,459.8 431.5,460.8 432.5,460.7 433.5,459.7 434.5,458.1 435.5,456.8 436.5,455.5 437.5,453.8 438.5,450.6 439.5,446.0 440.5,440.9 441.5,436.1 442.5,432.0 443.5,429.7 444.5,429.0 445.5,428.7 446.5,428.2 447.5,427.6 448.5,426.8 449.5,425.5 450.5,423.5 451.5,420.7 452.5,418.0 453.5,415.8 454.5,414.8 455.5,415.3 456.5,417.3 457.5,420.1 458.5,422.9 459.5,425.5 460.5,427.5 461.5,428.8 462.5,429.3 463.5,429.1 464.5,428.4 465.5,427.5 466.5,426.6 467.5,426.3 468.5,426.5 469.5,427.1 470.5,428.1 471.5,429.0 472.5,429.8 473.5,430.4 474.5,430.7 475.5,430.8 476.5,430.7 477.5,430.3 478.5,429.7 479.5,428.8 480.5,427.7 481.5,426.5 482.5,425.3 483.5,423.5 484.5,422.1 485.5,422.1 486.5,424.7 487.5,428.1 488.5,433.1 489.5,438.8 490.5,444.2 491.5,448.0 492.5,452.0 493.5,456.1 494.5,460.3 495.5,463.3 496.5,465.1 497.5,465.9 498.5,465.6 499.5,464.5 500.5,463.9 501.5,463.6 502.5,463.4 503.5,463.5 504.5,463.6 505.5,463.5 506.5,463.4 507.5,463.7 508.5,464.2 509.5,464.6" fill="none" stroke="#ff0000" stroke-dasharray="2,2"/><polyline points="3.5,424.8 4.5,425.4 5.5,420.2 6.5,426.5 7.5,427.7 8.5,429.2 9.5,430.8 10.5,428.5 11.5,426.3 12.5,424.6 13.5,425.1 14.5,428.8 15.5,428.0 16.5,427.2 17.5,428.3 18.5,423.5 19.5,422.0 20.5,419.7 21.5,419.4 22.5,422.8 23.5,426.4 24.5,425.0 25.5,425.1 26.5,422.7 27.5,420.7 28.5,418.6 29.5,417.3 30.5,418.9 31.5,417.0 32.5,411.9 33.5,409.5 34.5,411.7 35.5,415.2 36.5,415.1 37.5,411.3 38.5,412.8 39.5,409.4 40.5,413.4 41.5,415.6 42.5,415.9 43.5,411.4 44.5,413.5 45.5,413.5 46.5,413.5 47.5,409.0 48.5,410.6 49.5,412.4 50.5,409.4 51.5,410.7 52.5,409.1 53.5,415.0 54.5,418.7 55.5,418.5 56.5,420.6 57.5,417.5 58.5,414.9 59.5,419.4 60.5,419.4 61.5,428.8 62.5,436.3 63.5,442.6 64.5,453.4 65.5,449.9 66.5,445.8 67.5,436.4 68.5,437.7 69.5,443.4 70.5,438.4 71.5,437.0 72.5,436.3 73.5,434.8 74.5,437.2 75.5,434.4 76.5,431.2 77.5,430.9 78.5,427.1 79.5,426.6 80.5,426.9 81.5,428.2 82.5,427.8 83.5,426.0 84.5,423.3 85.5,427.5 86.5,424.3 87.5,422.2 88.5,426.3 89.5,429.6 90.5,428.0 91.5,421.8 92.5,418.9 93.5,421.3 94.5,422.0 95.5,427.7 96.5,430.9 97.5,431.1 98.5,439.8 99.5,441.8 100.5,438.9 101.5,437.3 102.5,432.6 103.5,437.9 104.5,439.9 105.5,435.7 106.5,435.4 107.5,435.7 108.5,435.9 109.5,429.8 110.5,425.4 111.5,427.9 112.5,428.0 113.5,428.1 114.5,432.8 115.5,432.3 116.5,433.2 117.5,436.0 118.5,437.5 119.5,437.6 120.5,437.0 121.5,438.0 122.5,439.7 123.5,437.7 124.5,435.9 125.5,435.2 126.5,435.1 127.5,434.3 128.5,435.0 129.5,446.4 130.5,449.9 131.5,454.1 132.5,457.0 133.5,454.6 134.5,447.3 135.5,447.1 136.5,443.0 137.5,444.6 138.5,447.9 139.5,444.2 140.5,444.4 141.5,442.0 142.5,442.7 143.5,443.4 144.5,441.4 145.5,439.4 146.5,439.8 147.5,435.1 148.5,438.0 149.5,435.3 150.5,433.1 151.5,434.9 152.5,433.7 153.5,434.6 154.5,430.3 155.5,432.9 156.5,432.9 157.5,432.7 158.5,429.9 159.5,429.9 160.5,433.2 161.5,433.4 162.5,436.7 163.5,435.7 164.5,436.4 165.5,435.5 166.5,433.1 167.5,434.5 168.5,433.3 169.5,431.5 170.5,429.7 171.5,432.5 172.5,434.1 173.5,435.1 174.5,437.2 175.5,434.7 176.5,436.5 177.5,437.4 178.5,437.8 179.5,437.6 180.5,437.6 181.5,439.0 182.5,439.0 183.5,439.4 184.5,441.1 185.5,441.4 186.5,443.2 187.5,443.8 188.5,442.4 189.5,442.5 190.5,438.9 191.5,437.0 192.5,435.6 193.5,432.4 194.5,428.3 195.5,425.5 196.5,422.9 197.5,419.1 198.5,418.2 199.5,417.0 200.5,415.2 201.5,416.3 202.5,416.9 203.5,419.0 204.5,418.5 205.5,420.0 206.5,420.5 207.5,423.2 208.5,425.3 209.5,427.3 210.5,429.0 211.5,430.9 212.5,431.5 213.5,438.5 214.5,425.0 215.5,425.0 216.5,426.6 217.5,435.0 218.5,434.4 219.5,437.4 220.5,442.1 221.5,443.2 222.5,442.6 223.5,445.8 224.5,452.9 225.5,451.1 226.5,448.6 227.5,445.9 228.5,440.4 229.5,443.4 230.5,439.6 231.5,438.5 232.5,438.9 233.5,436.4 234.5,432.5 235.5,428.4 236.5,429.8 237.5,428.6 238.5,429.0 239.5,427.3 240.5,428.0 241.5,426.8 242.5,428.7 243.5,430.1 244.5,434.1 245.5,435.6 246.5,441.3 247.5,440.2 248.5,442.8 249.5,441.7 250.5,438.4 251.5,439.7 252.5,443.5 253.5,440.4 254.5,438.8 255.5,443.5 256.5,444.3 257.5,446.3 258.5,449.2 259.5,450.2 260.5,450.0 261.5,450.2 262.5,454.0 263.5,455.2 264.5,456.0 265.5,446.1 266.5,444.1 267.5,441.4 268.5,438.7 269.5,439.1 270.5,440.7 271.5,442.3 272.5,444.7 273.5,443.4 274.5,444.2 275.5,442.7 276.5,440.9 277.5,439.1 278.5,433.2 279.5,429.0 280.5,425.9 281.5,425.3 282.5,426.1 283.5,428.5 284.5,427.7 285.5,427.4 286.5,428.4 287.5,427.8 288.5,430.0 289.5,432.4 290.5,420.4 291.5,418.6 292.5,414.9 293.5,415.0 294.5,413.1 295.5,414.5 296.5,419.5 297.5,421.4 298.5,424.5 299.5,419.3 300.5,418.2 301.5,419.7 302.5,416.7 303.5,418.4 304.5,418.0 305.5,414.3 306.5,416.7 307.5,416.9 308.5,415.3 309.5,413.7 310.5,411.9 311.5,413.6 312.5,414.9 313.5,421.0 314.5,425.2 315.5,420.7 316.5,424.0 317.5,420.8 318.5,416.7 319.5,416.5 320.5,418.0 321.5,415.7 322.5,416.1 323.5,416.0 324.5,419.1 325.5,418.7 326.5,419.7 327.5,425.2 328.5,428.1 329.5,434.0 330.5,434.9 331.5,441.7 332.5,440.2 333.5,442.3 334.5,440.8 335.5,439.3 336.5,438.9 337.5,438.2 338.5,435.7 339.5,434.9 340.5,432.7 341.5,433.4 342.5,435.7 343.5,432.8 344.5,434.6 345.5,434.3 346.5,431.7 347.5,424.2 348.5,425.2 349.5,428.1 350.5,427.3 351.5,430.7 352.5,432.3 353.5,431.5 354.5,433.2 355.5,436.2 356.5,439.1 357.5,438.9 358.5,440.4 359.5,436.8 360.5,438.4 361.5,436.0 362.5,439.4 363.5,443.6 364.5,440.9 365.5,440.5 366.5,438.2 367.5,437.6 368.5,436.7 369.5,439.6 370.5,439.5 371.5,439.1 372.5,439.6 373.5,441.3 374.5,440.6 375.5,440.4 376.5,441.2 377.5,440.3 378.5,439.5 379.5,436.5 380.5,432.8 381.5,424.4 382.5,415.6 383.5,411.7 384.5,414.5 385.5,417.4 386.5,420.7 387.5,425.3 388.5,429.3 389.5,429.7 390.5,428.0 391.5,430.3 392.5,433.4 393.5,436.6 394.5,442.7 395.5,444.4 396.5,444.7 397.5,446.4 398.5,444.9 399.5,441.3 400.5,438.2 401.5,433.7 402.5,435.1 403.5,430.5 404.5,433.3 405.5,432.0 406.5,433.6 407.5,435.3 408.5,435.5 409.5,440.3 410.5,444.3 411.5,448.4 412.5,453.0 413.5,458.2 414.5,455.7 415.5,453.3 416.5,452.2 417.5,445.5 418.5,441.2 419.5,437.8 420.5,439.8 421.5,439.1 422.5,441.1 423.5,444.1 424.5,447.9 425.5,449.9 426.5,447.6 427.5,451.8 428.5,452.2 429.5,454.7 430.5,451.1 431.5,447.5 432.5,443.6 433.5,446.4 434.5,441.3 435.5,439.7 436.5,437.5 437.5,438.6 438.5,429.8 439.5,427.3 440.5,428.8 441.5,427.5 442.5,430.5 443.5,431.2 444.5,428.3 445.5,429.9 446.5,427.8 447.5,426.2 448.5,428.6 449.5,427.0 450.5,422.3 451.5,419.3 452.5,417.7 453.5,425.0 454.5,428.0 455.5,431.7 456.5,433.9 457.5,435.4 458.5,435.4 459.5,437.5 460.5,441.5 461.5,433.7 462.5,430.8 463.5,428.2 464.5,427.9 465.5,427.3 466.5,430.9 467.5,433.2 468.5,434.0 469.5,437.5 470.5,439.1 471.5,438.4 472.5,438.6 473.5,437.7 474.5,432.3 475.5,430.8 476.5,429.6 477.5,426.6 478.5,428.5 479.5,426.1 480.5,427.1 481.5,427.6 482.5,427.0 483.5,423.8 484.5,422.8 485.5,427.9 486.5,439.9 487.5,442.0 488.5,444.7 489.5,450.1 490.5,450.7 491.5,452.6 492.5,452.6 493.5,451.2 494.5,448.8 495.5,447.3 496.5,448.3 497.5,446.2 498.5,449.5 499.5,446.6 500.5,446.0 501.5,447.9 502.5,449.7 503.5,450.4 504.5,449.3 505.5,446.3 506.5,449.9 507.5,451.3 508.5,449.8 509.5,450.7" fill="none" stroke="#1e90ff" stroke-width="2.4" stroke-linejoin="round"/><rect x="0" y="0" width="2" height="500" fill="#f5f5f5"/><rect x="2" y="2" width="643" height="1" fill="#000"/><rect x="2" y="2" width="1" height="388" fill="#000"/><rect x="644" y="2" width="1" height="388" fill="#000"/><rect x="2" y="389" width="643" height="1" fill="#000"/><rect x="2" y="391" width="643" height="1" fill="#000"/><rect x="2" y="391" width="1" height="86" fill="#000"/><rect x="644" y="391" width="1" height="86" fill="#000"/><rect x="2" y="476" width="643" height="1" fill="#000"/><rect x="645" y="0" width="55" height="500" fill="#f5f5f5"/><rect x="0" y="477" width="700" height="23" fill="#f5f5f5"/><text x="9" y="15.7" fill="#000" font-size="12" text-anchor="start" letter-spacing="-0.25">#JPM.,H4</text><text x="5.3" y="406.5" fill="#000" font-size="12" text-anchor="start" letter-spacing="0.27">MACD(5,34,5) -4.952 -4.563 RSI(14) 27.97</text><rect x="645" y="5" width="3" height="1" fill="#000"/><text x="650.4" y="9.5" fill="#000" font-size="12" text-anchor="start" letter-spacing="0.15">135.90</text><rect x="645" y="37" width="3" height="1" fill="#000"/><text x="650.4" y="41.5" fill="#000" font-size="12" text-anchor="start" letter-spacing="0.15">131.15</text><rect x="645" y="69" width="3" height="1" fill="#000"/><text x="650.4" y="73.5" fill="#000" font-size="12" text-anchor="start" letter-spacing="0.15">126.40</text><rect x="645" y="101" width="3" height="1" fill="#000"/><text x="650.4" y="105.5" fill="#000" font-size="12" text-anchor="start" letter-spacing="0.15">121.65</text><rect x="645" y="133" width="3" height="1" fill="#000"/><text x="650.4" y="137.5" fill="#000" font-size="12" text-anchor="start" letter-spacing="0.15">116.90</text><rect x="645" y="165" width="3" height="1" fill="#000"/><text x="650.4" y="169.5" fill="#000" font-size="12" text-anchor="start" letter-spacing="0.15">112.15</text><rect x="645" y="197" width="3" height="1" fill="#000"/><text x="650.4" y="201.5" fill="#000" font-size="12" text-anchor="start" letter-spacing="0.15">107.40</text><rect x="645" y="229" width="3" height="1" fill="#000"/><text x="650.4" y="233.5" fill="#000" font-size="12" text-anchor="start" letter-spacing="0.15">102.65</text><rect x="645" y="261" width="3" height="1" fill="#000"/><text x="650.4" y="265.5" fill="#000" font-size="12" text-anchor="start" letter-spacing="0.15">97.90</text><rect x="645" y="293" width="3" height="1" fill="#000"/><text x="650.4" y="297.5" fill="#000" font-size="12" text-anchor="start" letter-spacing="0.15">93.15</text><rect x="645" y="325" width="3" height="1" fill="#000"/><text x="650.4" y="329.5" fill="#000" font-size="12" text-anchor="start" letter-spacing="0.15">88.40</text><rect x="645" y="357" width="3" height="1" fill="#000"/><text x="650.4" y="361.5" fill="#000" font-size="12" text-anchor="start" letter-spacing="0.15">83.65</text><rect x="645" y="392" width="3" height="1" fill="#000"/><text x="649.6" y="403" fill="#000" font-size="12" text-anchor="start" letter-spacing="0.15">5.253</text><rect x="645" y="416" width="3" height="1" fill="#000"/><text x="649.6" y="421" fill="#000" font-size="12" text-anchor="start" letter-spacing="0.15">70.00</text><rect x="645" y="430" width="3" height="1" fill="#000"/><text x="649.6" y="435" fill="#000" font-size="12" text-anchor="start" letter-spacing="0.15">0.000</text><rect x="645" y="450" width="3" height="1" fill="#000"/><text x="649.6" y="455" fill="#000" font-size="12" text-anchor="start" letter-spacing="0.15">30.00</text><rect x="645" y="475" width="3" height="1" fill="#000"/><text x="649.6" y="474" fill="#000" font-size="12" text-anchor="start" letter-spacing="0.15">-6.212</text><rect x="647" y="111" width="47" height="14" fill="#0000ff"/><text x="650.6" y="122.5" fill="#fff" font-size="12" text-anchor="start" letter-spacing="0.2">119.10</text><rect x="647" y="154" width="47" height="14" fill="#0000ff"/><text x="650.6" y="165.5" fill="#fff" font-size="12" text-anchor="start" letter-spacing="0.2">112.71</text><rect x="647" y="222" width="47" height="14" fill="#ff0000"/><text x="650.6" y="233.5" fill="#fff" font-size="12" text-anchor="start" letter-spacing="0.2">102.70</text><rect x="647" y="264" width="40" height="14" fill="#c0c0c0"/><text x="650.6" y="275.5" fill="#fff" font-size="12" text-anchor="start" letter-spacing="0.2">96.42</text><rect x="647" y="297" width="40" height="14" fill="#0000ff"/><text x="650.6" y="308.5" fill="#fff" font-size="12" text-anchor="start" letter-spacing="0.2">91.53</text><rect x="2" y="477" width="1" height="4" fill="#000"/><text x="2.3" y="491.5" fill="#000" font-size="12" text-anchor="start" letter-spacing="0.12">19 Dec 2017</text><rect x="130" y="477" width="1" height="4" fill="#000"/><text x="129.7" y="491.5" fill="#000" font-size="12" text-anchor="start" letter-spacing="0.12">22 Mar 20:00</text><rect x="258" y="477" width="1" height="4" fill="#000"/><text x="257.7" y="491.5" fill="#000" font-size="12" text-anchor="start" letter-spacing="0.12">22 Jun 20:00</text><rect x="386" y="477" width="1" height="4" fill="#000"/><text x="385.7" y="491.5" fill="#000" font-size="12" text-anchor="start" letter-spacing="0.12">24 Sep 20:00</text></svg>
</body></html>
